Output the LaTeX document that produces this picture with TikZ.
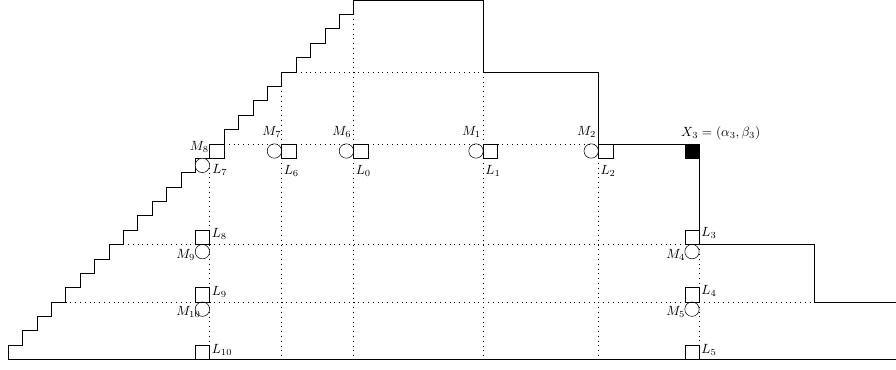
\documentclass[tikz,border=0pt]{standalone}
\usepackage{amsmath,amssymb}
\usepackage{tikz}

\begin{document}
\begin{tikzpicture}[x=0.75pt,y=0.75pt,yscale=-1,xscale=1,
  lsq/.style={draw,rectangle,minimum size=10.8pt,inner sep=0pt},
  mcirc/.style={draw,circle,minimum size=10.8pt,inner sep=0pt},
  grd/.style={dash pattern=on 0.6pt off 3pt}]
\useasboundingbox (0,0) rectangle (896,369);
%grid lines
\draw [grd] (281.6,71.9) -- (483.2,71.9) ;
\draw [grd] (224,143.8) -- (598.4,143.8) ;
\draw [grd] (123.2,244.46) -- (699.2,244.46) ;
\draw [grd] (65.6,301.98) -- (814.4,301.98) ;
\draw [grd] (209.6,158.18) -- (209.6,359.5) ;
\draw [grd] (281.6,71.9) -- (281.6,359.5) ;
\draw [grd] (353.6,14.38) -- (353.6,359.5) ;
\draw [grd] (483.2,71.9) -- (483.2,359.5) ;
\draw [grd] (598.4,143.8) -- (598.4,359.5) ;
\draw [grd] (699.2,244.46) -- (699.2,359.5) ;
%outline
\draw    (8,359.5) -- (896,359.5) ;
\draw    (8,359.5) -- (8,345.12) -- (22.4,345.12) -- (22.4,330.74) -- (36.8,330.74) -- (36.8,316.36) -- (51.2,316.36) -- (51.2,301.98) -- (65.6,301.98) -- (65.6,287.6) -- (80,287.6) -- (80,273.22) -- (94.4,273.22) -- (94.4,258.84) -- (108.8,258.84) -- (108.8,244.46) -- (123.2,244.46) -- (123.2,230.08) -- (137.6,230.08) -- (137.6,215.7) -- (152,215.7) -- (152,201.32) -- (166.4,201.32) -- (166.4,186.94) -- (180.8,186.94) -- (180.8,172.56) -- (195.2,172.56) -- (195.2,158.18) -- (209.6,158.18) -- (209.6,143.8) -- (224,143.8) -- (224,129.42) -- (238.4,129.42) -- (238.4,115.04) -- (252.8,115.04) -- (252.8,100.66) -- (267.2,100.66) -- (267.2,86.28) -- (281.6,86.28) -- (281.6,71.9) -- (296,71.9) -- (296,57.52) -- (310.4,57.52) -- (310.4,43.14) -- (324.8,43.14) -- (324.8,28.76) -- (339.2,28.76) -- (339.2,14.38) -- (353.6,14.38) -- (353.6,0) -- (483.2,0) -- (483.2,71.9) -- (598.4,71.9) -- (598.4,143.8) -- (699.2,143.8) -- (699.2,244.46) -- (814.4,244.46) -- (814.4,301.98) -- (896,301.98) ;
%squares and circles
\node [lsq,fill=white] (l7) at (216.8,150.99) {};
\node [mcirc,fill=white] (m8) at (202.4,165.37) {};
\node [lsq] (l6) at (288.8,150.99) {};
\node [mcirc] (m7) at (274.4,151) {};
\node [lsq] (l0) at (360.8,150.99) {};
\node [mcirc] (m6) at (346.4,151) {};
\node [lsq] (l1) at (490.4,150.99) {};
\node [mcirc] (m1) at (476,151) {};
\node [lsq] (l2) at (605.6,150.99) {};
\node [mcirc] (m2) at (591.2,151) {};
\node [lsq,fill=black] (x3) at (692,150.99) {};
\node [lsq] (l8) at (202.4,237.27) {};
\node [mcirc] (m9) at (202.4,251.65) {};
\node [lsq] (l9) at (202.4,294.79) {};
\node [mcirc] (m10) at (202.4,309.17) {};
\node [lsq] (l10) at (202.4,352.31) {};
\node [lsq] (l3) at (692,237.27) {};
\node [mcirc] (m4) at (692,251.65) {};
\node [lsq] (l4) at (692,294.79) {};
\node [mcirc] (m5) at (692,309.17) {};
\node [lsq] (l5) at (692,352.31) {};
%labels
\draw (210,146.7) node [anchor=east][inner sep=0.75pt] (tm8) {$M_8$};
\draw (211,170) node [anchor=west][inner sep=0.75pt] (tl7) {$L_7$};
\draw (282.5,131.7) node [anchor=east][inner sep=0.75pt] (tm7) {$M_7$};
\draw (282.5,171) node [anchor=west][inner sep=0.75pt] (tl6) {$L_6$};
\draw (352.6,131.7) node [anchor=east][inner sep=0.75pt] (tm6) {$M_6$};
\draw (354.6,171) node [anchor=west][inner sep=0.75pt] (tl0) {$L_0$};
\draw (482.2,131.7) node [anchor=east][inner sep=0.75pt] (tm1) {$M_1$};
\draw (484.2,171) node [anchor=west][inner sep=0.75pt] (tl1) {$L_1$};
\draw (597.4,131.7) node [anchor=east][inner sep=0.75pt] (tm2) {$M_2$};
\draw (599.4,171) node [anchor=west][inner sep=0.75pt] (tl2) {$L_2$};
\draw (720.8,133.3) node [inner sep=0.75pt] (tx3) {$X_3=(\alpha_3,\beta_3)$};
\draw (210.6,234.3) node [anchor=west][inner sep=0.75pt] (tl8) {$L_8$};
\draw (175,254.65) node [anchor=west][inner sep=0.75pt] (tm9) {$M_9$};
\draw (210.6,291.9) node [anchor=west][inner sep=0.75pt] (tl9) {$L_9$};
\draw (175,312.17) node [anchor=west][inner sep=0.75pt] (tm10) {$M_{10}$};
\draw (210.6,350) node [anchor=west][inner sep=0.75pt] (tl10) {$L_{10}$};
\draw (700.2,233.3) node [anchor=west][inner sep=0.75pt] (tl3) {$L_3$};
\draw (665,254.65) node [anchor=west][inner sep=0.75pt] (tm4) {$M_4$};
\draw (700.2,290.7) node [anchor=west][inner sep=0.75pt] (tl4) {$L_4$};
\draw (665,312.17) node [anchor=west][inner sep=0.75pt] (tm5) {$M_5$};
\draw (700.2,350) node [anchor=west][inner sep=0.75pt] (tl5) {$L_5$};
\end{tikzpicture}
\end{document}
